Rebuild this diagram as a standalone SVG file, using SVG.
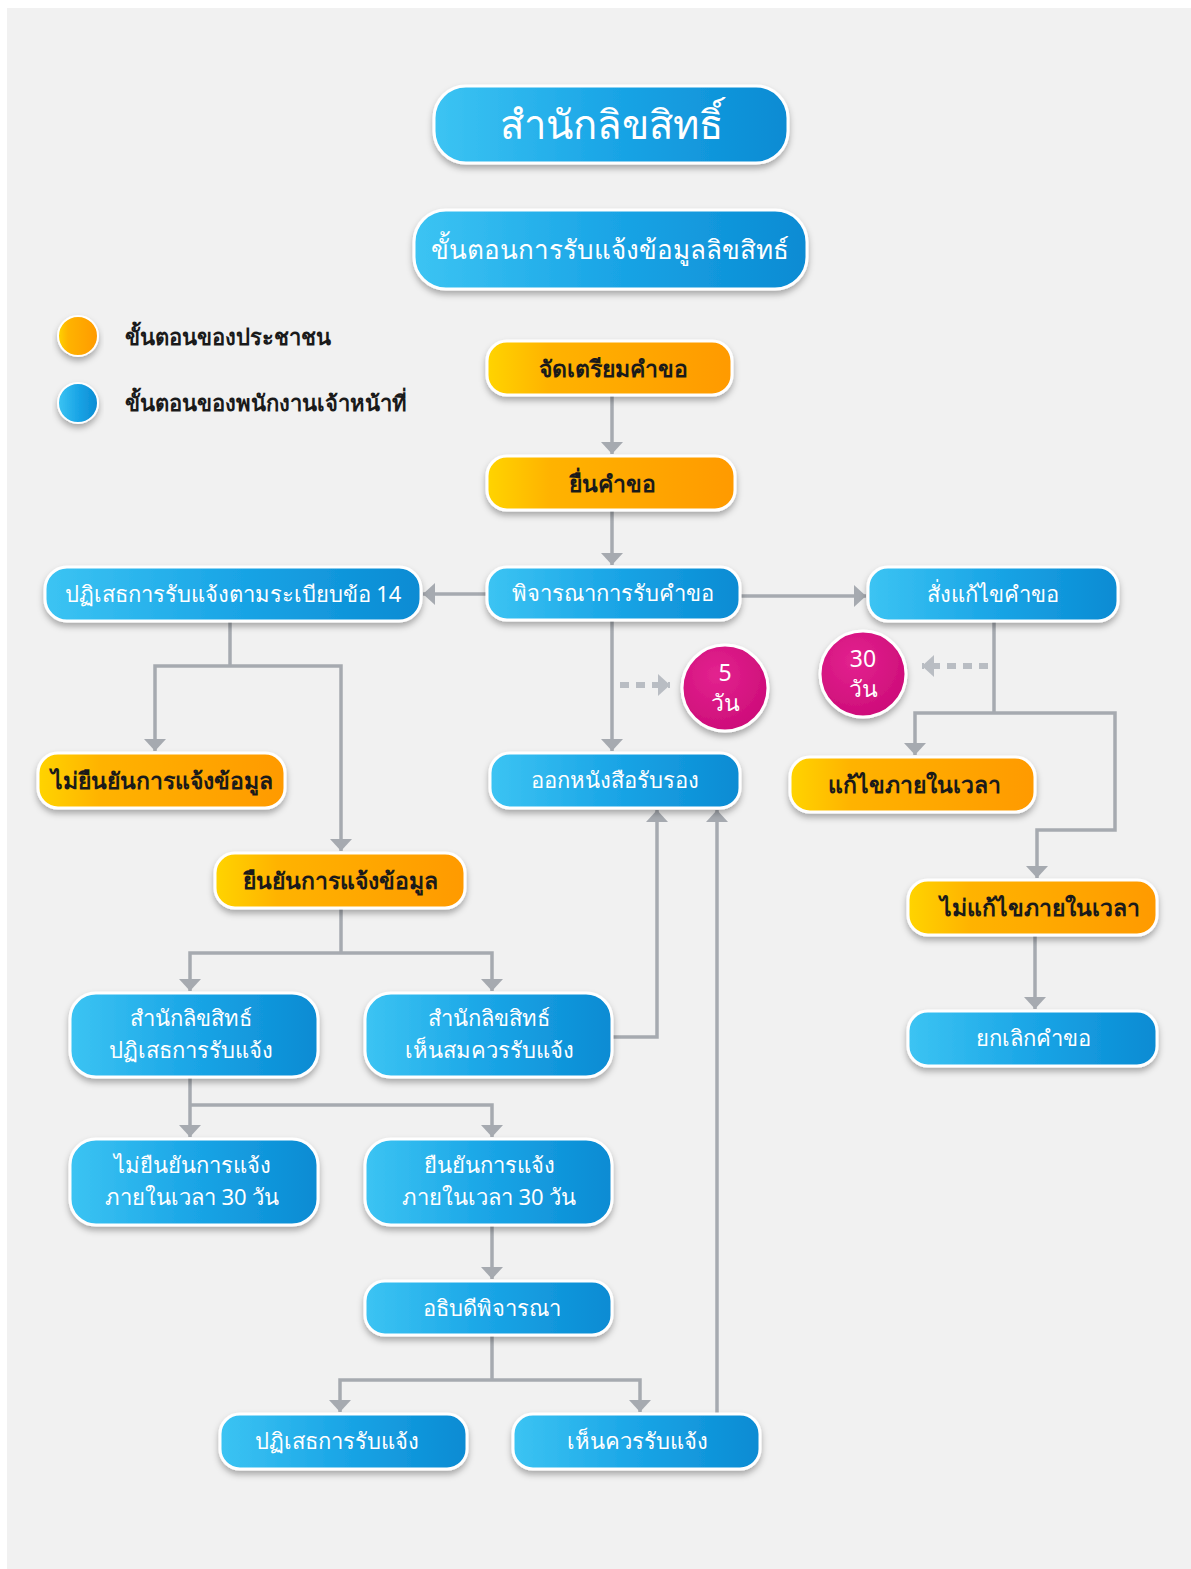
<svg xmlns="http://www.w3.org/2000/svg" width="1191" height="1569" viewBox="0 0 1191 1569">
<defs>
<linearGradient id="gBlue" x1="0" y1="0" x2="1" y2="0">
<stop offset="0" stop-color="#3cc4f3"/>
<stop offset="0.5" stop-color="#1aa5e6"/>
<stop offset="1" stop-color="#0a8bd3"/>
</linearGradient>
<linearGradient id="gOrange" x1="0" y1="0" x2="1" y2="0">
<stop offset="0" stop-color="#ffd400"/>
<stop offset="0.25" stop-color="#ffb300"/>
<stop offset="1" stop-color="#ff9a00"/>
</linearGradient>
<radialGradient id="gPink" cx="0.4" cy="0.35" r="0.7">
<stop offset="0" stop-color="#e3238f"/>
<stop offset="1" stop-color="#cc0b78"/>
</radialGradient>
<filter id="sh" x="-15%" y="-30%" width="130%" height="170%">
<feDropShadow dx="0" dy="4" stdDeviation="3" flood-color="#000" flood-opacity="0.3"/>
</filter>
<marker id="ah" viewBox="0 0 12 22" refX="12" refY="11" markerWidth="12" markerHeight="22" markerUnits="userSpaceOnUse" orient="auto">
<path d="M0,0 L12,11 L0,22 z" fill="#a6aab0"/>
</marker>
<marker id="ahd" viewBox="0 0 12 22" refX="12" refY="11" markerWidth="12" markerHeight="22" markerUnits="userSpaceOnUse" orient="auto">
<path d="M0,0 L12,11 L0,22 z" fill="#b9bdc3"/>
</marker>
<style>
.blue rect{fill:url(#gBlue);stroke:#fff;stroke-width:3;filter:url(#sh)}
.orange rect{fill:url(#gOrange);stroke:#fff;stroke-width:3;filter:url(#sh)}
.blue text{fill:#fff;font-size:22px;text-anchor:middle}
.orange text{fill:#1a1a1a;font-size:23px;font-weight:bold;text-anchor:middle}
text{font-family:"Noto Sans","DejaVu Sans",sans-serif}
.conn path{fill:none;stroke:#a6aab0;stroke-width:3.5}
.conn path.arr{marker-end:url(#ah)}
.conn path.dash{stroke:#b9bdc3;stroke-width:6;stroke-dasharray:9 7;marker-end:url(#ahd)}
.pink circle{fill:url(#gPink);stroke:#fff;stroke-width:3;filter:url(#sh)}
.pink text{fill:#fff;font-size:23px;text-anchor:middle}
.legend text{fill:#1a1a1a;font-size:22px;font-weight:bold}
</style>
</defs>
<rect x="0" y="0" width="1191" height="1569" fill="#ffffff"/>
<rect x="7" y="8" width="1184" height="1561" fill="#f1f1f1"/>

<g id="connectors" class="conn">
<path class="arr" d="M612,395 V454"/>
<path class="arr" d="M612,510 V565"/>
<path class="arr" d="M487,594 H423"/>
<path class="arr" d="M740,596 H866"/>
<path class="arr" d="M612,620 V751"/>
<path d="M230,621 V666"/>
<path class="arr" d="M230,666 H155 V751"/>
<path class="arr" d="M230,666 H341 V851"/>
<path d="M341,908 V953"/>
<path class="arr" d="M341,953 H190 V991"/>
<path class="arr" d="M341,953 H492 V991"/>
<path class="arr" d="M190,1077 V1137"/>
<path class="arr" d="M190,1105 H492 V1137"/>
<path class="arr" d="M612,1037 H657 V810"/>
<path class="arr" d="M492,1225 V1279"/>
<path d="M492,1335 V1380"/>
<path class="arr" d="M492,1380 H340 V1412"/>
<path class="arr" d="M492,1380 H640 V1412"/>
<path class="arr" d="M717,1414 V810"/>
<path d="M994,621 V713"/>
<path class="arr" d="M994,713 H915 V755"/>
<path class="arr" d="M994,713 H1115 V830 H1037 V878"/>
<path class="arr" d="M1035,935 V1009"/>
<path class="dash" d="M620,685 H670"/>
<path class="dash" d="M988,666 H922"/>
</g>

<g id="n-title" class="blue">
<rect x="434" y="86" width="354" height="77" rx="32"/>
<text x="611" y="139" style="font-size:40px">สำนักลิขสิทธิ์</text>
</g>
<g id="n-subtitle" class="blue">
<rect x="414" y="210" width="393" height="79" rx="32"/>
<text x="610" y="259" style="font-size:26px">ขั้นตอนการรับแจ้งข้อมูลลิขสิทธ์</text>
</g>

<g id="legend" class="legend">
<circle cx="78" cy="336" r="20" fill="url(#gOrange)" stroke="#fff" stroke-width="2" filter="url(#sh)"/>
<circle cx="78" cy="403" r="20" fill="url(#gBlue)" stroke="#fff" stroke-width="2" filter="url(#sh)"/>
<text x="125" y="345">ขั้นตอนของประชาชน</text>
<text x="125" y="411">ขั้นตอนของพนักงานเจ้าหน้าที่</text>
</g>

<g id="n-prepare" class="orange">
<rect x="487" y="341" width="245" height="54" rx="20"/>
<text x="613" y="377">จัดเตรียมคำขอ</text>
</g>
<g id="n-submit" class="orange">
<rect x="487" y="456" width="248" height="54" rx="20"/>
<text x="612" y="492">ยื่นคำขอ</text>
</g>
<g id="n-consider" class="blue">
<rect x="487" y="567" width="253" height="53" rx="20"/>
<text x="613" y="601">พิจารณาการรับคำขอ</text>
</g>
<g id="n-reject14" class="blue">
<rect x="45" y="567" width="376" height="54" rx="22"/>
<text x="233" y="602">ปฏิเสธการรับแจ้งตามระเบียบข้อ 14</text>
</g>
<g id="n-orderfix" class="blue">
<rect x="868" y="567" width="250" height="54" rx="20"/>
<text x="993" y="602">สั่งแก้ไขคำขอ</text>
</g>

<g id="n-5days" class="pink">
<circle cx="725" cy="688" r="43"/>
<text x="725" y="681">5</text>
<text x="725" y="711">วัน</text>
</g>
<g id="n-30days" class="pink">
<circle cx="863" cy="674" r="43"/>
<text x="863" y="667">30</text>
<text x="863" y="697">วัน</text>
</g>

<g id="n-issue" class="blue">
<rect x="490" y="753" width="250" height="55" rx="20"/>
<text x="615" y="788">ออกหนังสือรับรอง</text>
</g>
<g id="n-fixed" class="orange">
<rect x="790" y="757" width="245" height="55" rx="20"/>
<text x="914" y="793">แก้ไขภายในเวลา</text>
</g>
<g id="n-notconfirm" class="orange">
<rect x="38" y="753" width="247" height="55" rx="20"/>
<text x="162" y="789">ไม่ยืนยันการแจ้งข้อมูล</text>
</g>
<g id="n-confirm" class="orange">
<rect x="215" y="853" width="250" height="55" rx="20"/>
<text x="340" y="889">ยืนยันการแจ้งข้อมูล</text>
</g>
<g id="n-notfixed" class="orange">
<rect x="908" y="880" width="249" height="55" rx="20"/>
<text x="1040" y="916">ไม่แก้ไขภายในเวลา</text>
</g>
<g id="n-cancel" class="blue">
<rect x="908" y="1011" width="249" height="55" rx="20"/>
<text x="1033" y="1046">ยกเลิกคำขอ</text>
</g>

<g id="n-officereject" class="blue">
<rect x="70" y="993" width="248" height="84" rx="26"/>
<text x="191" y="1026">สำนักลิขสิทธ์</text>
<text x="191" y="1058">ปฏิเสธการรับแจ้ง</text>
</g>
<g id="n-officeapprove" class="blue">
<rect x="365" y="993" width="247" height="84" rx="26"/>
<text x="489" y="1026">สำนักลิขสิทธ์</text>
<text x="489" y="1058">เห็นสมควรรับแจ้ง</text>
</g>
<g id="n-notconfirm30" class="blue">
<rect x="70" y="1139" width="248" height="86" rx="26"/>
<text x="192" y="1173">ไม่ยืนยันการแจ้ง</text>
<text x="192" y="1205">ภายในเวลา 30 วัน</text>
</g>
<g id="n-confirm30" class="blue">
<rect x="365" y="1139" width="247" height="86" rx="26"/>
<text x="489" y="1173">ยืนยันการแจ้ง</text>
<text x="489" y="1205">ภายในเวลา 30 วัน</text>
</g>
<g id="n-director" class="blue">
<rect x="365" y="1281" width="247" height="54" rx="20"/>
<text x="492" y="1316">อธิบดีพิจารณา</text>
</g>
<g id="n-reject" class="blue">
<rect x="220" y="1414" width="247" height="55" rx="20"/>
<text x="337" y="1449">ปฏิเสธการรับแจ้ง</text>
</g>
<g id="n-approve" class="blue">
<rect x="513" y="1414" width="247" height="55" rx="20"/>
<text x="637" y="1449">เห็นควรรับแจ้ง</text>
</g>
</svg>
